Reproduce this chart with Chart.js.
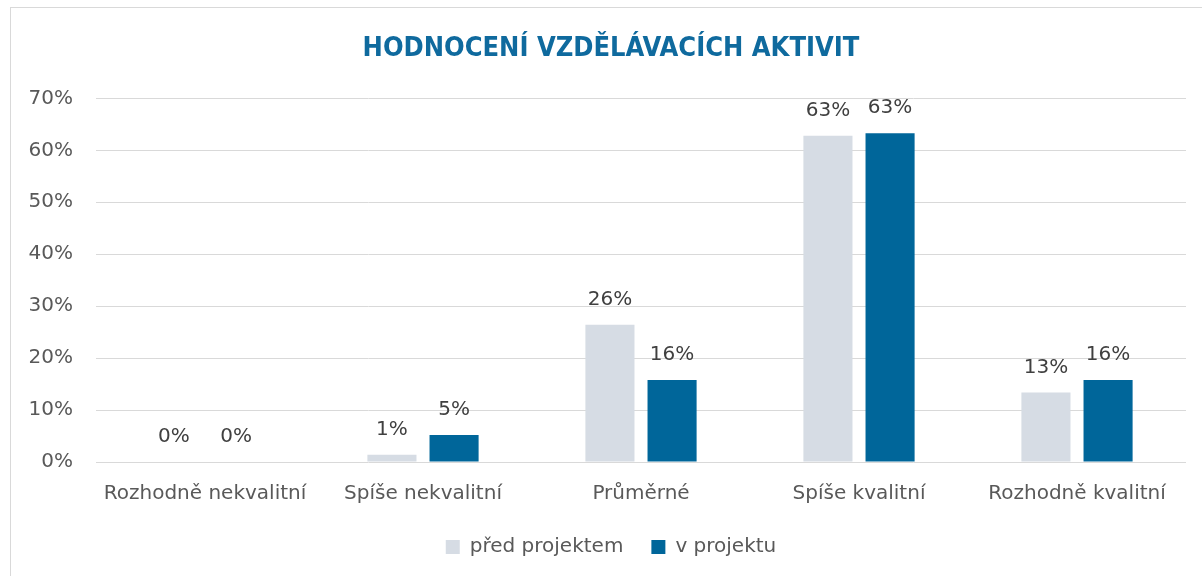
<!DOCTYPE html>
<html lang="cs">
<head>
    <meta charset="UTF-8">
    <title>Hodnocení vzdělávacích aktivit</title>
    <script src="https://cdn.jsdelivr.net/npm/chart.js"></script>
    <style>
        html, body { margin: 0; padding: 0; background: #fff; overflow: hidden; }
        .frame {
            position: absolute; left: 10px; top: 7px;
            width: 1202px; height: 580px;
            border: 1px solid #d9d9d9; box-sizing: border-box;
        }
        .frame canvas { display: block; }
    </style>
</head>
<body>
    <div class="frame">
        <canvas id="chart" width="1200" height="569"></canvas>
    </div>

    <script>
        // Data
        const categories = ['Rozhodně nekvalitní', 'Spíše nekvalitní', 'Průměrné', 'Spíše kvalitní', 'Rozhodně kvalitní'];
        const predProjektem = [0, 1.4, 26.4, 62.8, 13.4];
        const vProjektu = [0, 5.2, 15.8, 63.3, 15.8];
        const yTicks = [0, 10, 20, 30, 40, 50, 60, 70];

        const FONT = "'DejaVu Sans', sans-serif";
        const TITLE_FONT = "'DejaVu Sans Condensed', 'Liberation Sans Narrow', 'DejaVu Sans', sans-serif";

        // Popisky hodnot nad sloupci
        const valueLabels = {
            id: 'valueLabels',
            afterDatasetsDraw(chart) {
                const ctx = chart.ctx;
                ctx.save();
                ctx.font = '20px ' + FONT;
                ctx.fillStyle = '#404040';
                ctx.textAlign = 'center';
                ctx.textBaseline = 'middle';
                chart.data.datasets.forEach((ds, i) => {
                    chart.getDatasetMeta(i).data.forEach((bar, j) => {
                        ctx.fillText(Math.round(ds.data[j]) + '%', bar.x, bar.y - 25);
                    });
                });
                ctx.restore();
            }
        };

        new Chart(document.getElementById('chart'), {
            type: 'bar',
            data: {
                labels: categories,
                datasets: [
                    { label: 'před projektem', data: predProjektem, backgroundColor: '#d6dce4' },
                    { label: 'v projektu', data: vProjektu, backgroundColor: '#00669a' }
                ]
            },
            options: {
                responsive: false,
                animation: false,
                layout: { padding: { left: 0, right: 0, top: 0, bottom: 10 } },
                datasets: { bar: { categoryPercentage: 0.57, barPercentage: 0.79 } },
                scales: {
                    x: {
                        grid: { display: false },
                        border: { display: false },
                        ticks: { color: '#595959', font: { family: FONT, size: 20 }, padding: 12 },
                        afterFit: s => { s.height -= 9; }
                    },
                    y: {
                        min: 0, max: 70,
                        afterBuildTicks: s => { s.ticks = yTicks.map(v => ({ value: v })); },
                        afterFit: s => { s.width = 85; },
                        grid: { color: '#d9d9d9', drawTicks: false },
                        border: { display: false },
                        ticks: {
                            color: '#595959', font: { family: FONT, size: 20 }, padding: 23,
                            callback: v => v + '%'
                        }
                    },
                    // prázdný pravý okraj, aby nadpis a legenda byly vystředěné jako v originále
                    yRight: {
                        position: 'right',
                        grid: { display: false },
                        border: { display: false },
                        ticks: { display: false },
                        afterFit: s => { s.width = 25; }
                    }
                },
                plugins: {
                    title: {
                        display: true,
                        text: 'HODNOCENÍ VZDĚLÁVACÍCH AKTIVIT',
                        color: '#0f6a9e',
                        font: { family: TITLE_FONT, size: 27, weight: 'bold' },
                        padding: { top: 25, bottom: 33 }
                    },
                    legend: {
                        position: 'bottom',
                        labels: {
                            color: '#595959',
                            font: { family: FONT, size: 20 },
                            boxWidth: 14, boxHeight: 14,
                            padding: 28
                        }
                    },
                    tooltip: { enabled: false }
                }
            },
            plugins: [valueLabels]
        });
    </script>
</body>
</html>
